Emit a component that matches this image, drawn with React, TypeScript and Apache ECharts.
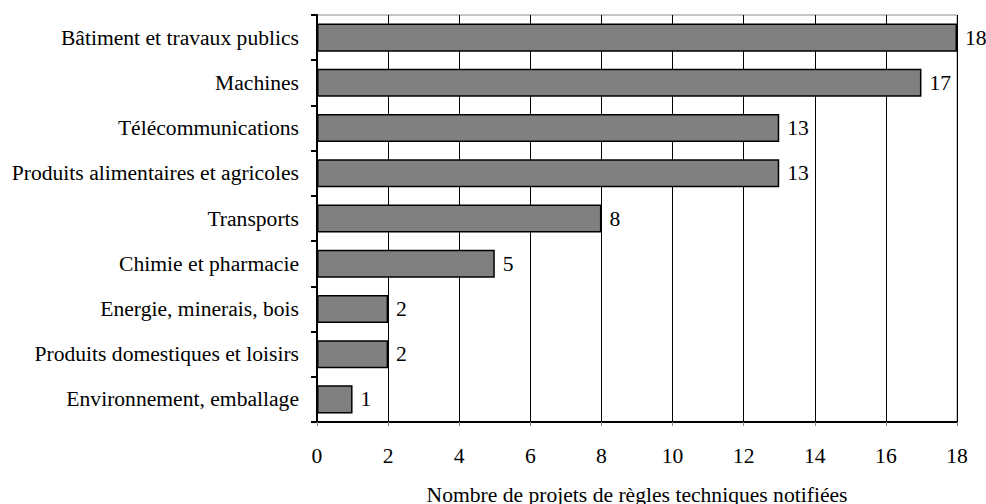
import React, { useEffect, useRef } from "react";
import * as echarts from "echarts";

const categories = [
  "Bâtiment et travaux publics",
  "Machines",
  "Télécommunications",
  "Produits alimentaires et agricoles",
  "Transports",
  "Chimie et pharmacie",
  "Energie, minerais, bois",
  "Produits domestiques et loisirs",
  "Environnement, emballage",
];
const values = [18, 17, 13, 13, 8, 5, 2, 2, 1];
const axisTitle = "Nombre de projets de règles techniques notifiées";

const FONT = "Liberation Serif";
const FS = 21.6;

export default function App() {
  const ref = useRef<HTMLDivElement>(null);
  useEffect(() => {
    if (!ref.current) return;
    const chart = echarts.init(ref.current, undefined, { renderer: "svg" });
    chart.setOption({
      animation: false,
      backgroundColor: "#fff",
      textStyle: { fontFamily: FONT },
      grid: {
        left: 317,
        top: 15,
        right: 29,
        bottom: 82,
        show: true,
        borderColor: "#8a8a8a",
        borderWidth: 1,
        containLabel: false,
        outerBoundsMode: "none",
      },
      xAxis: {
        type: "value",
        min: 0,
        max: 18,
        interval: 2,
        name: axisTitle,
        nameLocation: "middle",
        nameGap: 62,
        nameTextStyle: { fontFamily: FONT, fontSize: FS, color: "#000" },
        axisLine: { show: true, lineStyle: { color: "#000", width: 2 } },
        axisTick: { show: true, length: 4, lineStyle: { color: "#888" } },
        axisLabel: { fontFamily: FONT, fontSize: FS, color: "#000", margin: 23 },
        splitLine: { show: true, lineStyle: { color: "#000", width: 1 } },
      },
      yAxis: {
        type: "category",
        data: categories,
        inverse: true,
        axisLine: { show: true, lineStyle: { color: "#000", width: 2 } },
        axisTick: { show: true, length: 6, lineStyle: { color: "#000", width: 2 } },
        axisLabel: { fontFamily: FONT, fontSize: FS, color: "#000", margin: 18 },
        splitLine: { show: false },
      },
      series: [
        {
          type: "bar",
          data: values,
          barCategoryGap: "38%",
          itemStyle: { color: "#808080", borderColor: "#000", borderWidth: 1.5 },
          label: {
            show: true,
            position: "right",
            distance: 8,
            fontFamily: FONT,
            fontSize: FS,
            color: "#000",
          },
        },
      ],
    });
    return () => chart.dispose();
  }, []);
  return (
    <div
      ref={ref}
      style={{ position: "fixed", left: 0, top: 0, width: 986, height: 504 }}
    />
  );
}
